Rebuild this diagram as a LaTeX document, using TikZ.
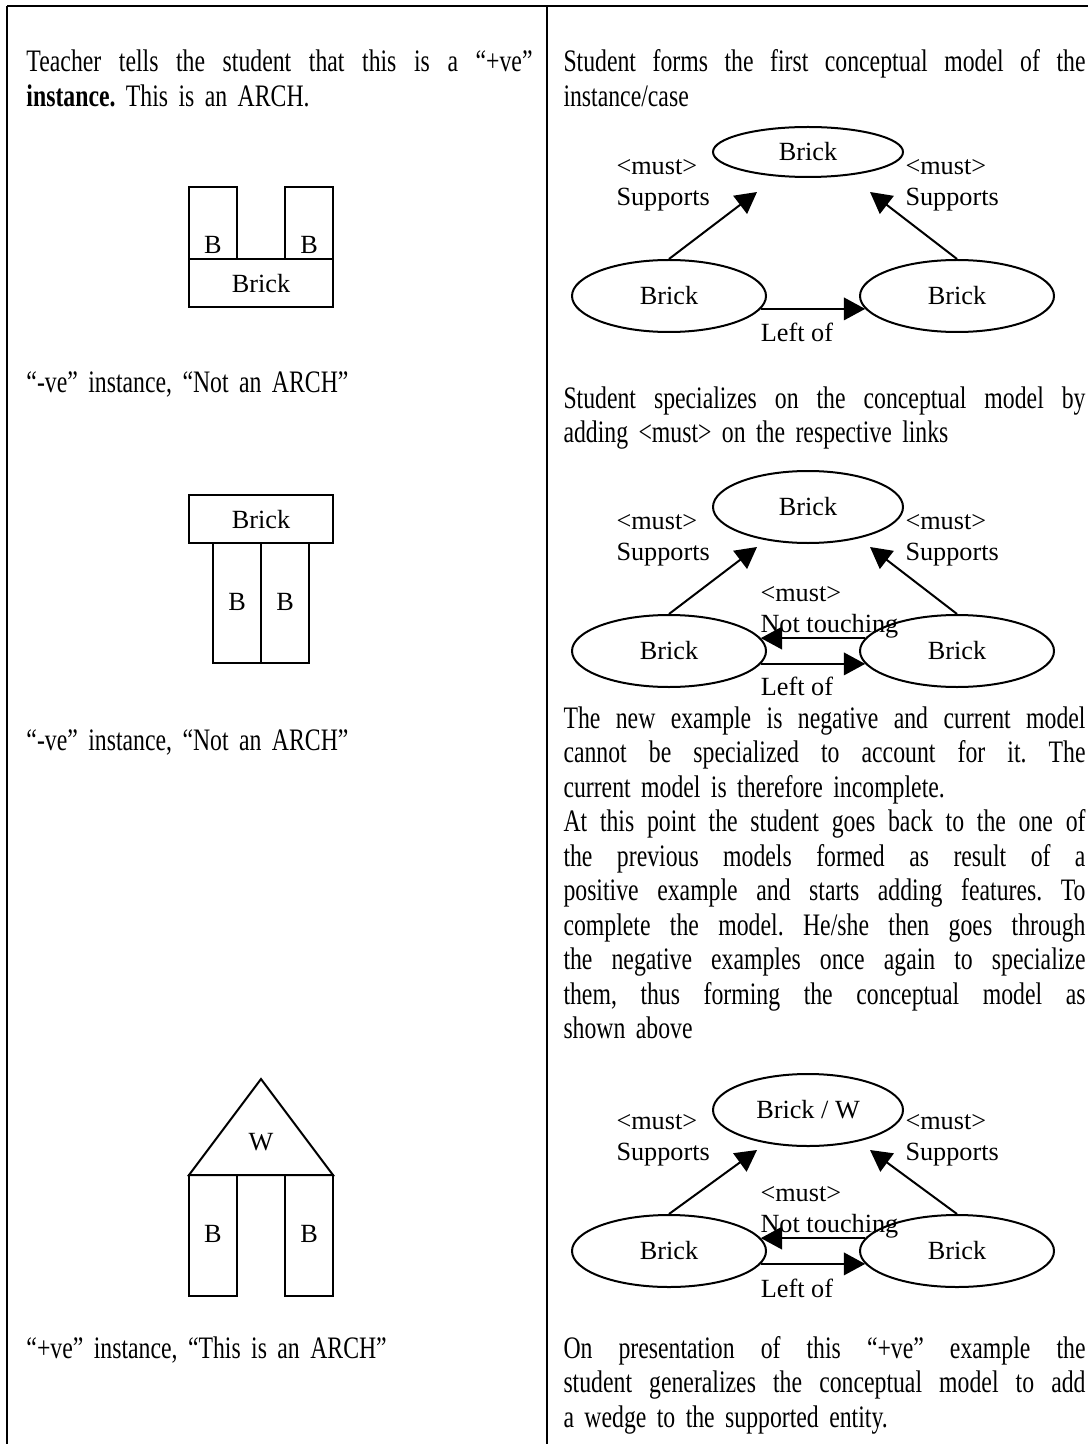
\documentclass[tikz,border=0pt]{standalone}
\usepackage{fontspec}
\setmainfont{Liberation Serif}
\newfontfamily\bodyfam[FakeStretch=0.76]{Liberation Serif}
\usetikzlibrary{shapes.geometric,arrows.meta}

\frenchspacing
\newcommand{\bodytext}{\bodyfam\fontsize{12.5}{13.8}\selectfont}
\newcommand{\lbltext}{\fontsize{10.5}{12.4}\selectfont}
% a justified line: spaces stretch to fill the column
\newcommand{\lfull}[1]{{\spaceskip=0.25em plus 1fil\makebox[202.4pt][s]{#1}}}
\newcommand{\rfull}[1]{{\spaceskip=0.25em plus 1fil\makebox[208.8pt][s]{#1}}}

\tikzset{
  rule/.style={line width=0.9pt},
  brick/.style={draw, line width=0.8pt},
  para/.style={anchor=base west, inner sep=0pt, font=\bodytext, align=left},
  lpara/.style={para, text width=202.4pt},
  rpara/.style={para, text width=208.8pt},
  lbl/.style={inner sep=0pt, font=\lbltext},
  tag/.style={lbl, anchor=west, align=left},
  blob/.style={draw, ellipse, line width=0.8pt, inner sep=0pt,
    minimum width=77.6pt, minimum height=28.8pt, font=\lbltext},
  link/.style={line width=0.8pt, -{Triangle[length=8.5pt,width=9pt]}},
}

\begin{document}
\begin{tikzpicture}[x=0.4pt, y=-0.4pt]
  \useasboundingbox (0,0) rectangle (1088,1444);

  % table rules
  \draw[rule] (7,6) -- (1088,6);
  \draw[rule] (7,6) -- (7,1444);
  \draw[rule] (547,6) -- (547,1444);

  % left column
  \node[lpara] (p1) at (26,72) {\lfull{Teacher tells the student that this is a “+ve”}\\
    \textbf{instance.} This is an ARCH.};

  \foreach \x in {189, 285} {
    \draw[brick] (\x,187) rectangle ++(48,72);
    \node[lbl] (ua\x) at (\x+24,245) {B};
  }
  \draw[brick] (189,259) rectangle (333,307);
  \node[lbl] (ub) at (261,284) {Brick};

  \node[lpara] (p2) at (26,393) {“-ve” instance, “Not an ARCH”};

  \draw[brick] (189,495) rectangle (333,543);
  \node[lbl] (tb) at (261,520) {Brick};
  \foreach \x in {213, 261} {
    \draw[brick] (\x,543) rectangle ++(48,120);
    \node[lbl] (tl\x) at (\x+24,602) {B};
  }

  \node[lpara] (p3) at (26,750) {“-ve” instance, “Not an ARCH”};

  \draw[brick] (261,1079) -- (189,1175) -- (333,1175) -- cycle;
  \node[lbl] (wd) at (261,1142) {W};
  \foreach \x in {189, 285} {
    \draw[brick] (\x,1175) rectangle ++(48,121);
    \node[lbl] (wl\x) at (\x+24,1234) {B};
  }

  \node[lpara] (p4) at (26,1358) {“+ve” instance, “This is an ARCH”};

  % right column
  \node[rpara] (q1) at (563,72) {\rfull{Student forms the first conceptual model of the}\\
    instance/case};

  % first model
  \node[blob, minimum width=76pt, minimum height=20pt] (t1) at (808,152) {Brick};
  \node[blob] (l1) at (669,296) {Brick};
  \node[blob] (r1) at (957,296) {Brick};
  \node[tag] (s1a) at (616,185) {<must>\\Supports};
  \node[tag] (s1b) at (905,185) {<must>\\Supports};
  \node[lbl] (lo1) at (797,332) {Left of};
  \draw[link] (l1.north) -- ([shift={(-51,40)}]t1.center);
  \draw[link] (r1.north) -- ([shift={(62,40)}]t1.center);
  \draw[link] (l1.-8) -- (r1.-172);

  \node[rpara] (q2) at (563,408) {\rfull{Student specializes on the conceptual model by}\\
    adding <must> on the respective links};

  % specialized model
  \node[blob, minimum width=76pt] (t2) at (808,507) {Brick};
  \node[blob] (l2) at (669,651) {Brick};
  \node[blob] (r2) at (957,651) {Brick};
  \node[tag] (s2a) at (616,540) {<must>\\Supports};
  \node[tag] (s2b) at (905,540) {<must>\\Supports};
  \node[tag] (n2) at (760,612) {<must>\\Not touching};
  \node[lbl] (lo2) at (797,686) {Left of};
  \draw[link] (l2.north) -- ([shift={(-51,40)}]t2.center);
  \draw[link] (r2.north) -- ([shift={(62,40)}]t2.center);
  \draw[link] (r2.172) -- (l2.8);
  \draw[link] (l2.-8) -- (r2.-172);

  \node[rpara] (q3) at (563,728) {\rfull{The new example is negative and current model}\\
    \rfull{cannot be specialized to account for it. The}\\
    current model is therefore incomplete.\\
    \rfull{At this point the student goes back to the one of}\\
    \rfull{the previous models formed as result of a}\\
    \rfull{positive example and starts adding features. To}\\
    \rfull{complete the model. He/she then goes through}\\
    \rfull{the negative examples once again to specialize}\\
    \rfull{them, thus forming the conceptual model as}\\
    shown above};

  % generalized model
  \node[blob, minimum width=76pt] (t3) at (808,1110) {Brick / W};
  \node[blob] (l3) at (669,1251) {Brick};
  \node[blob] (r3) at (957,1251) {Brick};
  \node[tag] (s3a) at (616,1140) {<must>\\Supports};
  \node[tag] (s3b) at (905,1140) {<must>\\Supports};
  \node[tag] (n3) at (760,1212) {<must>\\Not touching};
  \node[lbl] (lo3) at (797,1288) {Left of};
  \draw[link] (l3.north) -- ([shift={(-51,40)}]t3.center);
  \draw[link] (r3.north) -- ([shift={(62,40)}]t3.center);
  \draw[link] (r3.172) -- (l3.8);
  \draw[link] (l3.-8) -- (r3.-172);

  \node[rpara] (q4) at (563,1358) {\rfull{On presentation of this “+ve” example the}\\
    \rfull{student generalizes the conceptual model to add}\\
    a wedge to the supported entity.};
\end{tikzpicture}
\end{document}
